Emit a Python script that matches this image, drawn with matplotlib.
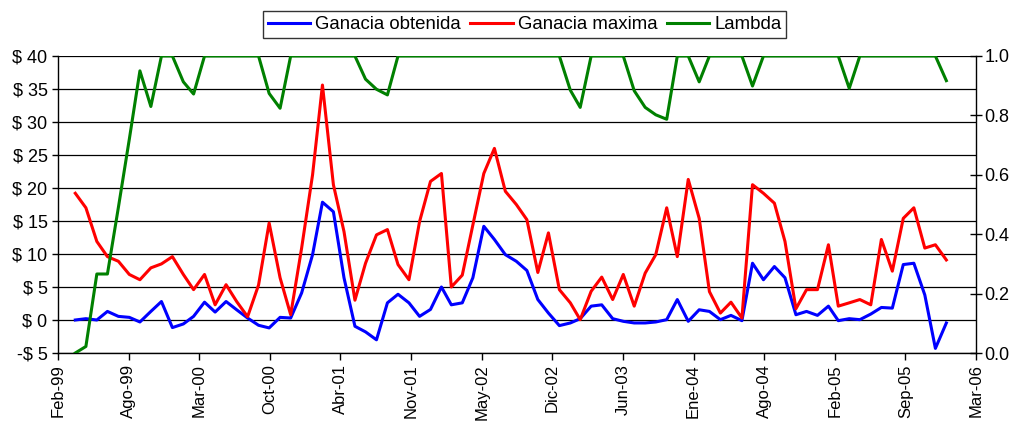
import numpy as np
import pandas as pd
import matplotlib
matplotlib.use("Agg")
import matplotlib.pyplot as plt
import matplotlib.dates as mdates

plt.rcParams["font.family"] = ["Liberation Sans", "DejaVu Sans"]

# monthly series, Mar-99 .. Dic-05
meses = pd.date_range("1999-03-31", periods=82, freq="ME")

ganancia_obtenida = [
    0.0, 0.2, 0.0, 1.3, 0.55, 0.4, -0.3, 1.3, 2.8, -1.15,
    -0.6, 0.55, 2.7, 1.2, 2.8, 1.55, 0.3, -0.8, -1.2, 0.4,
    0.3, 4.1, 9.9, 17.85, 16.4, 6.4, -0.95, -1.8, -3.0, 2.6,
    3.9, 2.6, 0.55, 1.6, 5.0, 2.3, 2.6, 6.4, 14.2, 12.2,
    9.9, 8.9, 7.5, 3.1, 1.05, -0.85, -0.45, 0.2, 2.1, 2.3,
    0.2, -0.2, -0.45, -0.45, -0.3, 0.05, 3.1, -0.2, 1.55, 1.3,
    0.05, 0.7, -0.1, 8.6, 6.1, 8.1, 6.4, 0.8, 1.3, 0.7,
    2.1, -0.1, 0.2, 0.05, 0.9, 1.9, 1.8, 8.4, 8.6, 3.8,
    -4.3, -0.45,
]

ganancia_maxima = [
    19.2, 17.0, 11.9, 9.6, 8.9, 6.9, 6.1, 7.9, 8.5, 9.6,
    6.9, 4.6, 6.9, 2.3, 5.35, 2.8, 0.5, 5.3, 14.7, 6.4,
    0.8, 10.9, 22.0, 35.6, 20.5, 13.4, 3.0, 8.6, 12.9, 13.7,
    8.4, 6.1, 14.9, 21.0, 22.2, 5.0, 6.8, 14.4, 22.2, 26.0,
    19.5, 17.5, 15.2, 7.2, 13.2, 4.6, 2.6, 0.05, 4.35, 6.5,
    3.1, 6.9, 2.1, 7.1, 9.9, 17.0, 9.6, 21.3, 15.4, 4.3,
    1.05, 2.7, 0.3, 20.5, 19.2, 17.7, 11.9, 1.7, 4.6, 4.6,
    11.4, 2.1, 2.6, 3.1, 2.3, 12.2, 7.4, 15.4, 17.0, 10.9,
    11.4, 9.1,
]

lambda_vals = [
    0.0, 0.022, 0.266, 0.266, 0.49, 0.72, 0.95, 0.83, 1.0, 1.0,
    0.913, 0.872, 1.0, 1.0, 1.0, 1.0, 1.0, 1.0, 0.874, 0.824,
    1.0, 1.0, 1.0, 1.0, 1.0, 1.0, 1.0, 0.922, 0.888, 0.869,
    1.0, 1.0, 1.0, 1.0, 1.0, 1.0, 1.0, 1.0, 1.0, 1.0,
    1.0, 1.0, 1.0, 1.0, 1.0, 1.0, 0.885, 0.827, 1.0, 1.0,
    1.0, 1.0, 0.883, 0.827, 0.802, 0.787, 1.0, 1.0, 0.913, 1.0,
    1.0, 1.0, 1.0, 0.899, 1.0, 1.0, 1.0, 1.0, 1.0, 1.0,
    1.0, 1.0, 0.891, 1.0, 1.0, 1.0, 1.0, 1.0, 1.0, 1.0,
    1.0, 0.917,
]

# x axis ticks (Excel date axis, 200-day major unit)
tick_dates = pd.date_range("1999-02-10", periods=14, freq="200D")
tick_labels = ["Feb-99", "Ago-99", "Mar-00", "Oct-00", "Abr-01", "Nov-01", "May-02",
               "Dic-02", "Jun-03", "Ene-04", "Ago-04", "Feb-05", "Sep-05", "Mar-06"]

left_ticks = [-5, 0, 5, 10, 15, 20, 25, 30, 35, 40]
left_labels = ["-$ 5" if v < 0 else f"$ {v}" for v in left_ticks]
right_ticks = [0.0, 0.2, 0.4, 0.6, 0.8, 1.0]

fig = plt.figure(figsize=(10.19, 4.25), dpi=100)
ax = fig.add_axes([58 / 1019, 1 - 353 / 425, (976 - 58) / 1019, (353 - 56) / 425])
ax2 = ax.twinx()

x = mdates.date2num(meses)
l1, = ax.plot(x, ganancia_obtenida, color="#0000FF", lw=2.2, solid_joinstyle="round",
              label="Ganacia obtenida")
l2, = ax.plot(x, ganancia_maxima, color="#FF0000", lw=2.2, solid_joinstyle="round",
              label="Ganacia maxima")
l3, = ax2.plot(x, lambda_vals, color="#008000", lw=2.2, label="Lambda")

ax.set_ylim(-5, 40)
ax.set_yticks(left_ticks)
ax.set_yticklabels(left_labels)
ax.yaxis.grid(True, color="black", lw=0.9)
ax.set_axisbelow(True)

xt = mdates.date2num(tick_dates)
ax.set_xlim(xt[0], xt[-1])
ax.set_xticks(xt)
ax.set_xticklabels(tick_labels, rotation=90)

ax2.set_ylim(0, 1)
ax2.set_yticks(right_ticks)
ax2.set_yticklabels([f"{v:.1f}" for v in right_ticks])

for a in (ax, ax2):
    a.spines["top"].set_visible(False)
    a.set_facecolor("none")
ax.spines["right"].set_visible(False)
ax2.spines["left"].set_visible(False)
ax2.spines["bottom"].set_visible(False)
ax.spines["left"].set_linewidth(1.0)
ax.spines["bottom"].set_linewidth(1.0)
ax2.spines["right"].set_linewidth(1.0)

ax.tick_params(axis="y", direction="out", length=4.5, width=1, labelsize=13, pad=3)
ax.tick_params(axis="x", direction="out", length=5, width=1, labelsize=12, pad=3)
ax2.tick_params(axis="y", direction="inout", length=8.5, width=1, labelsize=13, pad=2)

leg = fig.legend(handles=[l1, l2, l3], loc="center", ncol=3,
                 bbox_to_anchor=(524.5 / 1019, 1 - 24.5 / 425),
                 fontsize=13.4, frameon=True, fancybox=False, shadow=False,
                 handlelength=2.3, handletextpad=0.25, columnspacing=0.5,
                 borderpad=0.25, borderaxespad=0)
leg.get_frame().set_edgecolor("black")
leg.get_frame().set_linewidth(1.0)

fig.savefig("out.png", dpi=100)
